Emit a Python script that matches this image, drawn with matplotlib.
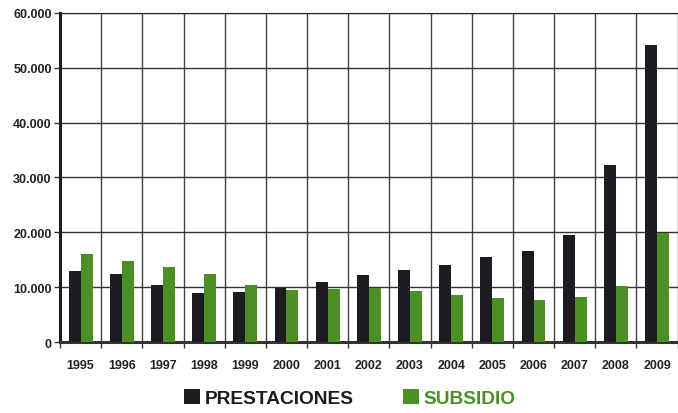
import numpy as np
import matplotlib.pyplot as plt
from matplotlib.ticker import FuncFormatter

plt.rcParams['font.family'] = ['Liberation Sans', 'DejaVu Sans']

# data
years = ['1995', '1996', '1997', '1998', '1999', '2000', '2001', '2002',
         '2003', '2004', '2005', '2006', '2007', '2008', '2009']
prestaciones = [13000, 12400, 10400, 8900, 9100, 9800, 10900, 12200,
                13100, 14000, 15500, 16600, 19500, 32200, 54100]
subsidio = [16100, 14750, 13650, 12400, 10400, 9500, 9650, 9800,
            9300, 8600, 8000, 7650, 8200, 10200, 19900]

BLACK = '#1c1b1f'
GREEN = '#4c8f24'

fig = plt.figure(figsize=(6.78, 4.14), dpi=100)
ax = fig.add_axes([0.0885, 0.171, 0.911, 0.796])

x = np.arange(len(years))
w = 0.29
b1 = ax.bar(x - w / 2, prestaciones, w, color=BLACK, zorder=3, label='PRESTACIONES')
b2 = ax.bar(x + w / 2, subsidio, w, color=GREEN, zorder=3, label='SUBSIDIO')

ax.set_xlim(-0.5, len(years) - 0.5)
ax.set_ylim(0, 60000)
ax.set_yticks(np.arange(0, 60001, 10000))
ax.yaxis.set_major_formatter(FuncFormatter(lambda v, p: f'{int(v):,}'.replace(',', '.')))

ax.set_xticks(x)
ax.set_xticklabels(years)
ax.set_xticks(np.arange(-0.5, len(years), 1), minor=True)
ax.tick_params(axis='x', which='major', length=0, pad=12)
ax.tick_params(axis='x', which='minor', length=4, width=1, color='#333333', direction='out')
ax.tick_params(axis='y', length=4, width=1, color='#333333', pad=2)
for lab in ax.get_xticklabels() + ax.get_yticklabels():
    lab.set_fontweight('bold')
    lab.set_fontsize(9)
    lab.set_color('#222222')

ax.grid(axis='y', which='major', color='#333333', linewidth=1, zorder=0)
ax.grid(axis='x', which='minor', color='#444444', linewidth=1, zorder=0)

ax.spines['left'].set_linewidth(2.2)
ax.spines['bottom'].set_linewidth(2.2)
ax.spines['left'].set_color(BLACK)
ax.spines['bottom'].set_color('#333333')
ax.spines['top'].set_color('#222222')
ax.spines['right'].set_visible(False)

leg = fig.legend(handles=[b1, b2], loc='lower center', bbox_to_anchor=(0.516, -0.028),
                 ncol=2, frameon=False, handlelength=0.8, handleheight=0.8,
                 handletextpad=0.25, columnspacing=2.6,
                 prop={'weight': 'bold', 'size': 13.8},
                 labelcolor=[BLACK, GREEN])

fig.savefig('out.png', dpi=100)
